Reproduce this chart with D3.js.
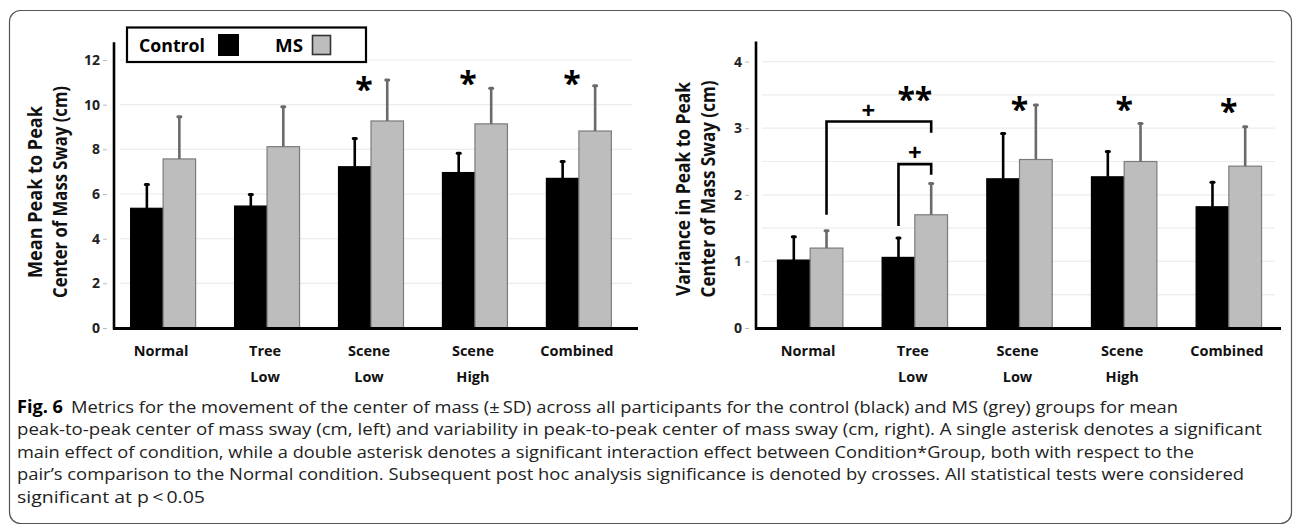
<!DOCTYPE html>
<html>
<head>
<meta charset="utf-8">
<script src="https://cdn.jsdelivr.net/npm/d3@7"></script>
<style>
  html, body { margin: 0; padding: 0; background: #fff; }
  svg text { font-family: "Open Sans", "DejaVu Sans", sans-serif; }
</style>
</head>
<body>
<div id="chart"></div>
<script>
// categories and values
var conditions = ["Normal", "Tree Low", "Scene Low", "Scene High", "Combined"];
var conditionLines = [["Normal"], ["Tree", "Low"], ["Scene", "Low"], ["Scene", "High"], ["Combined"]];
var groups = ["Control", "MS"];

var meanControl   = [5.36, 5.46, 7.22, 6.96, 6.70];
var meanControlSD = [1.07, 0.52, 1.27, 0.86, 0.75];
var meanMS        = [7.57, 8.12, 9.27, 9.14, 8.82];
var meanMSSD      = [1.89, 1.79, 1.83, 1.59, 2.03];
var meanTicks     = [0, 2, 4, 6, 8, 10, 12];
var meanStars     = ["", "", "*", "*", "*"];
var meanStarLevel = [0, 0, 11.0, 11.3, 11.3];

var varControl   = [1.02, 1.06, 2.24, 2.27, 1.82];
var varControlSD = [0.35, 0.29, 0.68, 0.38, 0.37];
var varMS        = [1.20, 1.70, 2.53, 2.50, 2.43];
var varMSSD      = [0.26, 0.47, 0.82, 0.57, 0.59];
var varTicks     = [0, 1, 2, 3, 4];
var varGrid      = [0.5, 1, 1.5, 2, 2.5, 3, 3.5, 4];
var varStars     = ["", "**", "*", "*", "*"];
var varStarLevel = [0, 3.55, 3.4, 3.4, 3.37];

// post hoc brackets (right panel): from condition/group, to condition/group, top, left end, right end, where the cross sits
var varBrackets = [
  ["Normal", "MS", "Tree Low", "MS", 3.10, 1.70, 2.93, 0.4],
  ["Tree Low", "Control", "Tree Low", "MS", 2.46, 1.53, 2.30, 0.5]
];

var captionBold = "Fig. 6";
var captionLines = [
  "Metrics for the movement of the center of mass (\u00B1\u2009SD) across all participants for the control (black) and MS (grey) groups for mean",
  "peak-to-peak center of mass sway (cm, left) and variability in peak-to-peak center of mass sway (cm, right). A single asterisk denotes a significant",
  "main effect of condition, while a double asterisk denotes a significant interaction effect between Condition*Group, both with respect to the",
  "pair\u2019s comparison to the Normal condition. Subsequent post hoc analysis significance is denoted by crosses. All statistical tests were considered",
  "significant at p\u2009<\u20090.05"
];
var captionEnds = [1178, 1262, 1194, 1244, 205];

var W = 1296, H = 529;
var svg = d3.select("#chart").append("svg").attr("width", W).attr("height", H);

svg.append("rect")
  .attr("x", 9.5).attr("y", 10.5).attr("width", 1282).attr("height", 513)
  .attr("rx", 11).attr("fill", "none").attr("stroke", "#555").attr("stroke-width", 1.2);

function panel(o) {
  var g = svg.append("g");
  var x = d3.scaleBand().domain(conditions).range(o.xRange)
    .paddingInner(0.375).paddingOuter(o.padOuter);
  var xg = d3.scaleBand().domain(groups).range([0, x.bandwidth()]);
  var y = d3.scaleLinear().domain([0, o.ticks[o.ticks.length - 1]]).range([328, o.yTop]);

  // light gridlines
  g.selectAll(".grid").data(o.grid).enter().append("line")
    .attr("x1", o.xRange[0] + 6).attr("x2", o.axisEnd - 6)
    .attr("y1", function(d) { return y(d); }).attr("y2", function(d) { return y(d); })
    .attr("stroke", "#ececec").attr("stroke-width", 1.2);

  var ax = g.append("g").attr("transform", "translate(" + (o.xRange[0] - 7) + ",0)")
    .call(d3.axisLeft(y).tickValues(o.ticks).tickFormat(d3.format("d")).tickSize(4).tickPadding(3));
  ax.select(".domain").remove();
  ax.selectAll(".tick line").attr("stroke", "#bbb");
  ax.selectAll(".tick text").attr("font-size", 14).attr("font-weight", "bold").attr("fill", "#222");

  var rows = conditions.map(function(c, i) {
    return [
      { c: c, g: "Control", v: o.control[i], sd: o.controlSD[i] },
      { c: c, g: "MS", v: o.ms[i], sd: o.msSD[i] }
    ];
  });
  var flat = [].concat.apply([], rows);

  g.selectAll(".bar").data(flat).enter().append("rect")
    .attr("x", function(d) { return x(d.c) + xg(d.g); })
    .attr("y", function(d) { return y(d.v); })
    .attr("width", xg.bandwidth())
    .attr("height", function(d) { return y(0) - y(d.v); })
    .attr("fill", function(d) { return d.g == "Control" ? "#000" : "#bdbdbd"; })
    .attr("stroke", function(d) { return d.g == "Control" ? "#000" : "#7c7c7c"; })
    .attr("stroke-width", 1.2);

  var cx = function(d) { return x(d.c) + xg(d.g) + xg.bandwidth() / 2; };
  g.selectAll(".err").data(flat).enter().append("line")
    .attr("x1", cx).attr("x2", cx)
    .attr("y1", function(d) { return y(d.v); })
    .attr("y2", function(d) { return y(d.v + d.sd); })
    .attr("stroke", function(d) { return d.g == "Control" ? "#000" : "#6a6a6a"; })
    .attr("stroke-width", 2.6);
  g.selectAll(".cap").data(flat).enter().append("line")
    .attr("x1", function(d) { return cx(d) - 1.5; }).attr("x2", function(d) { return cx(d) + 1.5; })
    .attr("y1", function(d) { return y(d.v + d.sd); })
    .attr("y2", function(d) { return y(d.v + d.sd); })
    .attr("stroke", function(d) { return d.g == "Control" ? "#000" : "#6a6a6a"; })
    .attr("stroke-width", 3).attr("stroke-linecap", "round");

  // axes lines
  g.append("line").attr("x1", o.xRange[0]).attr("x2", o.xRange[0])
    .attr("y1", y(o.axisTop)).attr("y2", 329.5)
    .attr("stroke", "#000").attr("stroke-width", 2.6);
  g.append("line").attr("x1", o.xRange[0] - 1).attr("x2", o.axisEnd)
    .attr("y1", 328.5).attr("y2", 328.5)
    .attr("stroke", "#000").attr("stroke-width", 3);

  // category labels
  var lab = g.selectAll(".cat").data(conditions).enter().append("text")
    .attr("text-anchor", "middle").attr("font-size", 14.5).attr("font-weight", "bold").attr("fill", "#111")
    .attr("transform", function(d) { return "translate(" + (x(d) + x.bandwidth() / 2 - 2) + ",356)"; });
  lab.selectAll("tspan").data(function(d, i) { return conditionLines[i]; }).enter().append("tspan")
    .attr("x", 0).attr("y", function(d, i) { return i * 26; }).text(function(d) { return d; });

  // significance asterisks
  g.selectAll(".star").data(conditions).enter().append("text")
    .attr("x", function(d) { return x(d) + x.bandwidth() / 2 + o.starShift; })
    .attr("y", function(d, i) { return y(o.starLevel[i]) + 19; })
    .attr("text-anchor", "middle").attr("font-size", 32).attr("font-weight", "bold")
    .text(function(d, i) { return o.stars[i]; });

  // axis title
  var t = g.append("text").attr("transform", "translate(" + o.titleX + "," + o.titleY + ") rotate(-90)")
    .attr("text-anchor", "middle").attr("font-size", 19).attr("font-weight", "bold").attr("fill", "#111");
  t.append("tspan").attr("x", 0).attr("y", 0).attr("textLength", o.titleLen[0])
    .attr("lengthAdjust", "spacingAndGlyphs").text(o.title[0]);
  t.append("tspan").attr("x", 0).attr("y", 25).attr("textLength", o.titleLen[1])
    .attr("lengthAdjust", "spacingAndGlyphs").text(o.title[1]);

  return { g: g, x: x, xg: xg, y: y };
}

var left = panel({
  xRange: [114, 628], padOuter: 0.16, axisEnd: 638, yTop: 60, axisTop: 12.8,
  ticks: meanTicks, grid: meanTicks.slice(1),
  control: meanControl, controlSD: meanControlSD, ms: meanMS, msSD: meanMSSD,
  stars: meanStars, starLevel: meanStarLevel, starShift: -7,
  title: ["Mean Peak to Peak", "Center of Mass Sway (cm)"], titleLen: [172, 212],
  titleX: 42, titleY: 192
});

var right = panel({
  xRange: [756, 1283], padOuter: 0.205, axisEnd: 1281, yTop: 61.6, axisTop: 4.3,
  ticks: varTicks, grid: varGrid,
  control: varControl, controlSD: varControlSD, ms: varMS, msSD: varMSSD,
  stars: varStars, starLevel: varStarLevel, starShift: 0,
  title: ["Variance in Peak to Peak", "Center of Mass Sway (cm)"], titleLen: [214, 217],
  titleX: 690, titleY: 189
});

// post hoc brackets
varBrackets.forEach(function(b) {
  var x1 = right.x(b[0]) + right.xg(b[1]) + right.xg.bandwidth() / 2;
  var x2 = right.x(b[2]) + right.xg(b[3]) + right.xg.bandwidth() / 2;
  var y = right.y;
  right.g.append("path")
    .attr("d", "M" + x1 + "," + y(b[5]) + "V" + y(b[4]) + "H" + x2 + "V" + y(b[6]))
    .attr("fill", "none").attr("stroke", "#000").attr("stroke-width", 2.6);
  right.g.append("text")
    .attr("x", x1 + (x2 - x1) * b[7]).attr("y", y(b[4]) - 3)
    .attr("text-anchor", "middle").attr("font-size", 24).attr("font-weight", "bold")
    .text("+");
});

// legend
var leg = svg.append("g");
leg.append("rect").attr("x", 127).attr("y", 27.5).attr("width", 239).attr("height", 34.5)
  .attr("fill", "#fff").attr("stroke", "#000").attr("stroke-width", 2.2);
leg.append("text").attr("x", 139).attr("y", 52).attr("font-size", 18).attr("font-weight", "bold")
  .attr("textLength", 66).attr("lengthAdjust", "spacingAndGlyphs").text("Control");
leg.append("rect").attr("x", 218).attr("y", 34).attr("width", 21).attr("height", 22).attr("fill", "#000");
leg.append("text").attr("x", 275).attr("y", 52).attr("font-size", 18).attr("font-weight", "bold")
  .attr("textLength", 28).attr("lengthAdjust", "spacingAndGlyphs").text("MS");
leg.append("rect").attr("x", 312.5).attr("y", 35.5).attr("width", 18).attr("height", 19)
  .attr("fill", "#bdbdbd").attr("stroke", "#333").attr("stroke-width", 1.6);

// caption
var cap = svg.append("g");
cap.append("text").attr("x", 17).attr("y", 413).attr("font-size", 17).attr("font-weight", "bold")
  .attr("textLength", 46).attr("lengthAdjust", "spacingAndGlyphs").text(captionBold);
captionLines.forEach(function(line, i) {
  var x0 = i == 0 ? 71 : 17;
  cap.append("text").attr("x", x0).attr("y", 413 + i * 22.4)
    .attr("font-size", 16.5).attr("fill", "#222")
    .attr("textLength", captionEnds[i] - x0).attr("lengthAdjust", "spacingAndGlyphs")
    .text(line);
});
</script>
</body>
</html>
